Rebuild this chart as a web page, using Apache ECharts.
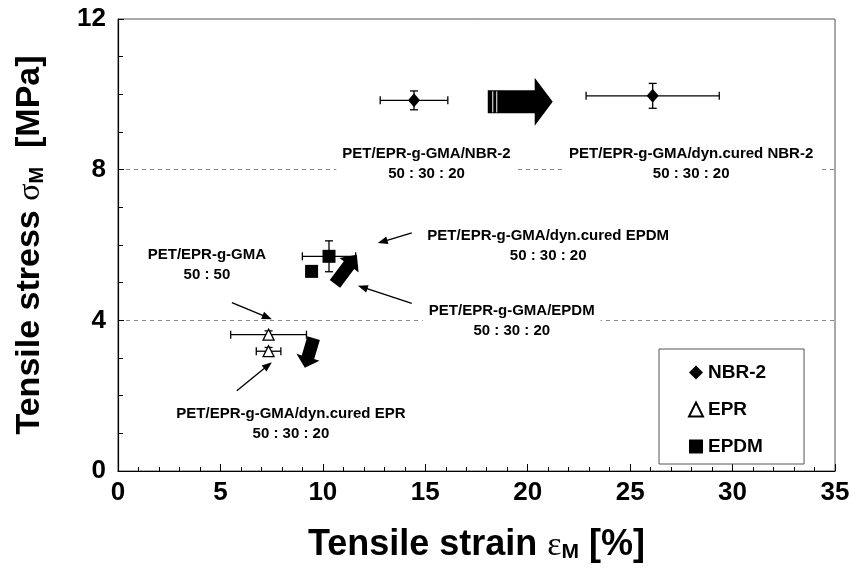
<!DOCTYPE html>
<html>
<head>
<meta charset="utf-8">
<title>Tensile stress vs strain</title>
<script src="https://cdn.jsdelivr.net/npm/echarts@6/dist/echarts.min.js"></script>
<style>
  html, body { margin: 0; padding: 0; background: #fff; }
  #chart { width: 858px; height: 568px; }
</style>
</head>
<body>
<div id="chart"></div>
<script>
// ---- Measured values: tensile strain [%] and tensile stress [MPa] ----
const nbrStrain = [14.45, 26.1];
const nbrStress = [9.84, 9.96];
const nbrStrainErr = [1.65, 3.25];
const nbrStressErr = [0.25, 0.33];

const eprStrain = [7.35, 7.35];
const eprStress = [3.62, 3.18];
const eprStrainErr = [1.85, 0.6];
const eprStressErr = [0.1, 0.1];

const epdmStrain = [10.3, 9.45];
const epdmStress = [5.7, 5.3];
const epdmStrainErr = [1.3, 0];
const epdmStressErr = [0.41, 0];

// ---- Axis ticks ----
const strainTicks = [0, 5, 10, 15, 20, 25, 30, 35];
const stressTicks = [0, 4, 8, 12];

// ---- Blend annotations (placed at strain / stress coordinates) ----
const blendLabels = [
  'PET/EPR-g-GMA/NBR-2\n50 : 30 : 20',
  'PET/EPR-g-GMA/dyn.cured NBR-2\n50 : 30 : 20',
  'PET/EPR-g-GMA/dyn.cured EPDM\n50 : 30 : 20',
  'PET/EPR-g-GMA/EPDM\n50 : 30 : 20',
  'PET/EPR-g-GMA\n50 : 50',
  'PET/EPR-g-GMA/dyn.cured EPR\n50 : 30 : 20'
];
const blendLabelStrain = [15.06, 27.98, 21.0, 19.22, 4.34, 8.44];
const blendLabelStress = [8.16, 8.16, 5.99, 3.99, 5.47, 1.24];

// Thin pointers: from (strain, stress) to (strain, stress)
const pointerFromStrain = [14.34, 14.34, 5.56, 5.8];
const pointerFromStress = [6.32, 4.45, 4.47, 2.13];
const pointerToStrain = [12.68, 11.71, 7.51, 7.51];
const pointerToStress = [6.05, 4.92, 4.03, 2.89];

// Block arrows: effect of dynamic curing of the rubber phase
const shiftFromStrain = [18.05, 10.59, 9.55];
const shiftFromStress = [9.8, 4.97, 3.53];
const shiftToStrain = [21.22, 11.66, 9.12];
const shiftToStress = [9.8, 5.74, 2.74];

// Drawing sizes of the block arrows (pixels)
const shiftBodyHalf = [11.5, 6.5, 6.5];
const shiftHeadHalf = [24, 12, 12];
const shiftHeadLen = [18, 13, 11];
const shiftStripes = [[5, 9], [], []];

const FONT = "'Liberation Sans', Arial, Helvetica, sans-serif";

function zip(...cols) {
  return cols[0].map((_, i) => cols.map(c => c[i]));
}

function errorBars(params, api) {
  const x = api.value(0), y = api.value(1), ex = api.value(2), ey = api.value(3);
  const st = { stroke: '#000', lineWidth: 1.3 };
  const cap = 4;
  const kids = [];
  if (ex > 0) {
    const l = api.coord([x - ex, y]), r = api.coord([x + ex, y]);
    kids.push({ type: 'line', shape: { x1: l[0], y1: l[1], x2: r[0], y2: r[1] }, style: st });
    kids.push({ type: 'line', shape: { x1: l[0], y1: l[1] - cap, x2: l[0], y2: l[1] + cap }, style: st });
    kids.push({ type: 'line', shape: { x1: r[0], y1: r[1] - cap, x2: r[0], y2: r[1] + cap }, style: st });
  }
  if (ey > 0) {
    const t = api.coord([x, y + ey]), b = api.coord([x, y - ey]);
    kids.push({ type: 'line', shape: { x1: t[0], y1: t[1], x2: b[0], y2: b[1] }, style: st });
    kids.push({ type: 'line', shape: { x1: t[0] - cap, y1: t[1], x2: t[0] + cap, y2: t[1] }, style: st });
    kids.push({ type: 'line', shape: { x1: b[0] - cap, y1: b[1], x2: b[0] + cap, y2: b[1] }, style: st });
  }
  return { type: 'group', children: kids };
}

function blockArrow(params, api) {
  const i = params.dataIndex;
  const p = api.coord([api.value(0), api.value(1)]);
  const q = api.coord([api.value(2), api.value(3)]);
  const dx = q[0] - p[0], dy = q[1] - p[1];
  const len = Math.hypot(dx, dy);
  const ux = dx / len, uy = dy / len;
  const nx = -uy, ny = ux;
  const bh = shiftBodyHalf[i], hh = shiftHeadHalf[i], hl = shiftHeadLen[i];
  const bx = q[0] - ux * hl, by = q[1] - uy * hl;
  const pts = [
    [p[0] + nx * bh, p[1] + ny * bh],
    [bx + nx * bh, by + ny * bh],
    [bx + nx * hh, by + ny * hh],
    [q[0], q[1]],
    [bx - nx * hh, by - ny * hh],
    [bx - nx * bh, by - ny * bh],
    [p[0] - nx * bh, p[1] - ny * bh]
  ];
  const kids = [{ type: 'polygon', shape: { points: pts }, style: { fill: '#000' } }];
  shiftStripes[i].forEach(off => {
    const sx = p[0] + ux * off, sy = p[1] + uy * off;
    kids.push({
      type: 'line',
      shape: { x1: sx + nx * (bh - 1), y1: sy + ny * (bh - 1), x2: sx - nx * (bh - 1), y2: sy - ny * (bh - 1) },
      style: { stroke: '#fff', lineWidth: 1 }
    });
  });
  return { type: 'group', children: kids };
}

function pointer(params, api) {
  const p = api.coord([api.value(0), api.value(1)]);
  const q = api.coord([api.value(2), api.value(3)]);
  const dx = q[0] - p[0], dy = q[1] - p[1];
  const len = Math.hypot(dx, dy);
  const ux = dx / len, uy = dy / len;
  const nx = -uy, ny = ux;
  const hl = 10, hw = 3.8;
  const bx = q[0] - ux * hl, by = q[1] - uy * hl;
  return {
    type: 'group',
    children: [
      { type: 'line', shape: { x1: p[0], y1: p[1], x2: bx + ux * 2, y2: by + uy * 2 }, style: { stroke: '#000', lineWidth: 1.4 } },
      { type: 'polygon', shape: { points: [[q[0], q[1]], [bx + nx * hw, by + ny * hw], [bx - nx * hw, by - ny * hw]] }, style: { fill: '#000' } }
    ]
  };
}

function blendLabel(params, api) {
  const c = api.coord([api.value(0), api.value(1)]);
  return {
    type: 'text',
    x: c[0], y: c[1],
    style: {
      text: blendLabels[params.dataIndex],
      fontFamily: FONT, fontWeight: 'bold', fontSize: 15, lineHeight: 20,
      fill: '#000', align: 'center', verticalAlign: 'middle',
      backgroundColor: '#fff', padding: [0, 6]
    }
  };
}

function axisNameRich(size, gSize, sSize) {
  return {
    t: { fontFamily: FONT, fontWeight: 'bold', fontSize: size, color: '#000', verticalAlign: 'bottom', lineHeight: size + 6 },
    g: { fontFamily: "'Liberation Serif', serif", fontSize: gSize, color: '#000', verticalAlign: 'bottom', lineHeight: size + 6 },
    s: { fontFamily: FONT, fontWeight: 'bold', fontSize: sSize, color: '#000', verticalAlign: 'bottom', lineHeight: size }
  };
}

const chart = echarts.init(document.getElementById('chart'), null, { renderer: 'canvas' });

chart.setOption({
  animation: false,
  backgroundColor: '#fff',
  textStyle: { fontFamily: FONT },
  grid: {
    left: 118, right: 23, top: 19, bottom: 92,
    show: true, borderColor: '#555', borderWidth: 1, backgroundColor: 'transparent'
  },
  legend: {
    data: ['NBR-2', 'EPR', 'EPDM'],
    orient: 'vertical',
    left: 659, top: 349,
    padding: [14, 38, 8, 29],
    itemGap: 18,
    itemWidth: 14, itemHeight: 14,
    selectedMode: false,
    borderColor: '#555', borderWidth: 1,
    textStyle: { fontFamily: FONT, fontWeight: 'bold', fontSize: 19, color: '#000' }
  },
  xAxis: {
    type: 'value', min: 0, max: 35, interval: 5,
    name: '{t|Tensile strain }{g|ε}{s|M}{t| [%]}',
    nameLocation: 'middle', nameGap: 50,
    nameTextStyle: { rich: axisNameRich(36, 34, 21) },
    axisLine: { show: true, onZero: false, lineStyle: { color: '#000', width: 1.2 } },
    axisTick: { show: true, inside: true, length: 7, lineStyle: { color: '#000' } },
    minorTick: { show: true, splitNumber: 5, length: 4, lineStyle: { color: '#000' } },
    splitLine: { show: false },
    axisLabel: {
      margin: 9, color: '#000', fontFamily: FONT, fontWeight: 'bold', fontSize: 26,
      customValues: strainTicks
    }
  },
  yAxis: {
    type: 'value', min: 0, max: 12, interval: 4,
    name: '{t|Tensile stress }{g|σ}{s|M}{t|  [MPa]}',
    nameLocation: 'middle', nameGap: 71,
    nameTextStyle: { rich: axisNameRich(34, 32, 20) },
    axisLine: { show: true, onZero: false, lineStyle: { color: '#000', width: 1.2 } },
    axisTick: { show: true, inside: true, length: 6, lineStyle: { color: '#000' } },
    minorTick: { show: true, splitNumber: 4, length: 5, lineStyle: { color: '#000' } },
    splitLine: {
      show: true, showMinLine: false, showMaxLine: false,
      lineStyle: { color: '#888', type: [4, 4], width: 1 }
    },
    axisLabel: {
      margin: 12, color: '#000', fontFamily: FONT, fontWeight: 'bold', fontSize: 26,
      customValues: stressTicks
    }
  },
  series: [
    {
      name: 'shift', type: 'custom', z: 3, silent: true,
      renderItem: blockArrow,
      encode: { x: [0, 2], y: [1, 3] },
      data: zip(shiftFromStrain, shiftFromStress, shiftToStrain, shiftToStress)
    },
    {
      name: 'pointers', type: 'custom', z: 3, silent: true,
      renderItem: pointer,
      encode: { x: [0, 2], y: [1, 3] },
      data: zip(pointerFromStrain, pointerFromStress, pointerToStrain, pointerToStress)
    },
    {
      name: 'labels', type: 'custom', z: 4, silent: true,
      renderItem: blendLabel,
      encode: { x: 0, y: 1 },
      data: zip(blendLabelStrain, blendLabelStress)
    },
    {
      name: 'err-nbr', type: 'custom', z: 5, silent: true,
      renderItem: errorBars, encode: { x: 0, y: 1 },
      data: zip(nbrStrain, nbrStress, nbrStrainErr, nbrStressErr)
    },
    {
      name: 'err-epr', type: 'custom', z: 5, silent: true,
      renderItem: errorBars, encode: { x: 0, y: 1 },
      data: zip(eprStrain, eprStress, eprStrainErr, eprStressErr)
    },
    {
      name: 'err-epdm', type: 'custom', z: 5, silent: true,
      renderItem: errorBars, encode: { x: 0, y: 1 },
      data: zip(epdmStrain, epdmStress, epdmStrainErr, epdmStressErr)
    },
    {
      name: 'NBR-2', type: 'scatter', z: 6,
      symbol: 'diamond', symbolSize: [12, 14],
      itemStyle: { color: '#000', opacity: 1 },
      data: zip(nbrStrain, nbrStress)
    },
    {
      name: 'EPR', type: 'scatter', z: 6,
      symbol: 'triangle', symbolSize: 11,
      itemStyle: { color: '#fff', borderColor: '#000', borderWidth: 1.3, opacity: 1 },
      data: zip(eprStrain, eprStress)
    },
    {
      name: 'EPDM', type: 'scatter', z: 6,
      symbol: 'rect', symbolSize: 13,
      itemStyle: { color: '#000', opacity: 1 },
      data: zip(epdmStrain, epdmStress)
    }
  ]
});
</script>
</body>
</html>
